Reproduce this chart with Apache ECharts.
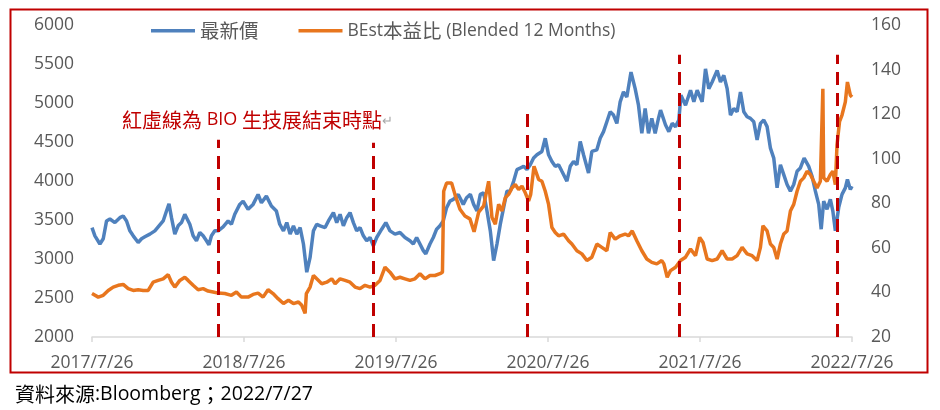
<!DOCTYPE html>
<html>
<head>
<meta charset="utf-8">
<script src="https://cdn.jsdelivr.net/npm/echarts@6/dist/echarts.min.js"></script>
<style>
html,body{margin:0;padding:0;background:#fff;}
#chart{width:940px;height:410px;}
</style>
</head>
<body>
<div id="chart"></div>
<script>
// x tick labels (one per year, starting 2017/7/26)
const tickLabels = ['2017/7/26','2018/7/26','2019/7/26','2020/7/26','2021/7/26','2022/7/26'];
const daysPerYear = 365.2;

// 最新價 : [days since 2017/7/26, value]
const priceData = [[0,3403],[7,3297],[19,3192],[27,3260],[35,3488],[43,3513],[55,3467],[67,3530],[75,3552],[83,3488],[91,3361],[99,3297],[111,3212],[119,3260],[127,3285],[139,3319],[151,3361],[159,3412],[171,3488],[179,3615],[185,3708],[191,3530],[199,3319],[207,3425],[215,3467],[223,3573],[227,3594],[235,3446],[243,3297],[251,3234],[259,3340],[267,3297],[275,3234],[281,3183],[287,3297],[295,3361],[303,3361],[315,3412],[327,3488],[335,3446],[343,3573],[355,3700],[363,3742],[375,3637],[387,3700],[399,3828],[407,3721],[419,3806],[431,3679],[443,3615],[451,3446],[460,3361],[468,3467],[476,3319],[484,3425],[492,3319],[500,3403],[508,3192],[516,2831],[524,3021],[532,3361],[540,3446],[548,3425],[560,3403],[568,3488],[580,3594],[588,3467],[596,3573],[604,3425],[612,3530],[620,3594],[628,3467],[636,3361],[644,3403],[652,3297],[660,3234],[668,3276],[676,3170],[684,3276],[696,3382],[706,3467],[716,3361],[728,3319],[740,3340],[752,3276],[764,3234],[772,3192],[780,3276],[788,3192],[796,3107],[802,3065],[812,3192],[820,3276],[828,3382],[836,3425],[844,3488],[852,3658],[860,3742],[868,3764],[880,3828],[892,3700],[900,3785],[909,3828],[917,3700],[925,3615],[933,3828],[941,3849],[949,3615],[957,3361],[965,2979],[973,3192],[981,3446],[989,3658],[997,3870],[1005,3870],[1013,3997],[1021,4146],[1029,4167],[1037,4188],[1045,4146],[1053,4209],[1061,4294],[1069,4336],[1081,4379],[1089,4548],[1097,4336],[1105,4251],[1113,4188],[1121,4209],[1129,4124],[1141,3997],[1149,4188],[1157,4251],[1165,4209],[1173,4506],[1181,4336],[1193,4103],[1201,4379],[1213,4400],[1221,4548],[1229,4633],[1237,4760],[1245,4887],[1253,4845],[1261,4739],[1269,5015],[1277,5142],[1285,5078],[1295,5396],[1305,5184],[1313,4972],[1321,4612],[1329,4930],[1337,4612],[1345,4803],[1353,4612],[1361,4803],[1366,4909],[1378,4718],[1386,4633],[1394,4739],[1402,4697],[1410,4782],[1415,5100],[1426,4972],[1438,5163],[1446,5015],[1454,5163],[1466,5015],[1474,5438],[1482,5184],[1490,5269],[1502,5418],[1510,5269],[1518,5354],[1526,5184],[1534,4845],[1542,4930],[1550,4887],[1558,5142],[1566,4887],[1574,4824],[1582,4803],[1590,4760],[1598,4527],[1606,4739],[1614,4782],[1622,4697],[1630,4421],[1638,4294],[1646,3912],[1654,4209],[1662,4082],[1670,3955],[1678,3870],[1686,3955],[1694,4124],[1702,4167],[1711,4294],[1722,4188],[1730,4061],[1738,3870],[1746,3700],[1752,3382],[1758,3742],[1766,3637],[1774,3764],[1780,3615],[1786,3361],[1794,3658],[1802,3828],[1810,3912],[1815,4019],[1822,3891],[1826,3933]];

// BEst本益比 (Blended 12 Months) : [days since 2017/7/26, value]
const peData = [[0,39.5],[15,37.9],[27,38.7],[39,40.9],[51,42.4],[63,43.2],[75,43.6],[87,41.7],[99,40.9],[111,41.2],[123,40.9],[135,40.9],[147,44.6],[159,45.4],[171,46.1],[183,48.0],[191,44.6],[199,42.4],[211,45.4],[223,46.8],[231,45.4],[243,43.2],[255,41.2],[267,41.7],[279,40.6],[291,40.2],[303,39.7],[319,39.5],[335,38.7],[347,40.2],[359,37.9],[375,37.9],[387,39.1],[399,39.7],[411,37.9],[423,41.2],[435,39.5],[447,37.2],[460,35.0],[472,36.5],[484,35.0],[496,35.7],[504,34.2],[512,30.6],[515,39.5],[524,42.4],[532,47.6],[540,46.1],[552,43.9],[564,44.6],[576,46.1],[584,43.9],[596,46.1],[608,45.4],[620,44.6],[632,42.4],[644,41.7],[656,43.2],[668,42.4],[680,43.2],[692,45.4],[704,51.3],[716,49.1],[728,46.1],[740,46.8],[752,46.1],[764,45.4],[776,46.1],[788,48.4],[800,46.1],[812,47.6],[824,47.6],[836,48.4],[842,49.1],[845,85.4],[852,89.1],[864,89.1],[872,84.0],[884,77.3],[896,74.3],[908,73.0],[918,67.2],[929,76.0],[941,78.8],[953,89.9],[961,73.6],[969,70.6],[977,79.5],[985,76.5],[993,82.5],[1001,84.0],[1009,86.9],[1017,88.4],[1025,86.2],[1033,87.7],[1041,84.7],[1049,81.0],[1054,84.0],[1062,96.6],[1073,90.7],[1081,89.9],[1089,85.4],[1097,79.5],[1105,69.1],[1113,66.9],[1121,65.4],[1133,66.2],[1145,63.2],[1153,61.7],[1165,58.7],[1177,57.3],[1189,54.3],[1201,55.8],[1213,61.7],[1225,60.2],[1237,58.7],[1245,66.9],[1257,63.9],[1269,65.4],[1281,66.2],[1289,65.4],[1298,67.6],[1309,63.2],[1321,58.7],[1333,55.0],[1345,53.5],[1357,52.8],[1369,54.3],[1374,52.8],[1382,46.8],[1390,49.8],[1402,51.3],[1414,54.3],[1426,55.8],[1438,59.5],[1450,56.5],[1460,64.7],[1468,62.4],[1478,55.0],[1490,54.3],[1502,55.0],[1514,58.7],[1526,55.0],[1538,55.0],[1550,56.5],[1562,60.2],[1574,57.3],[1586,56.5],[1598,54.3],[1606,60.2],[1612,69.9],[1622,67.6],[1630,61.7],[1638,60.2],[1646,55.0],[1654,61.7],[1662,66.2],[1670,67.6],[1678,76.5],[1686,79.5],[1694,85.4],[1702,89.9],[1710,91.4],[1718,94.4],[1726,92.9],[1734,89.9],[1742,86.9],[1750,89.9],[1754,90.5],[1756,131.4],[1758,91.4],[1766,89.9],[1774,92.9],[1780,94.4],[1786,88.4],[1790,106.2],[1796,116.6],[1802,119.6],[1810,125.5],[1815,134.4],[1822,128.5],[1826,127.7]];

// BIO convention end dates (days since 2017/7/26) and top of each marker line (left-axis units)
const bioEndDays = [303, 676, 1046, 1411, 1790];
const bioLineTops = [4530, 4490, 4950, 5620, 5620];

const seriesNames = ['最新價', 'BEst本益比 (Blended 12 Months)'];
const noteText = '紅虛線為 BIO 生技展結束時點';
const sourceText = '資料來源:Bloomberg；2022/7/27';

const LATIN = '"Open Sans", sans-serif';
const CJK = '"Noto Sans CJK TC", sans-serif';
// wrap CJK runs in a rich-text tag so they get their own (larger) size
const cjkWrap = s => s.replace(/([\u3000-\u9fff\uff00-\uffef]+)/g, '{c|$1}');

const toYears = arr => arr.map(p => [p[0] / daysPerYear, p[1]]);

const chart = echarts.init(document.getElementById('chart'), null, {renderer: 'canvas'});
chart.setOption({
  animation: false,
  backgroundColor: '#fff',
  textStyle: {fontFamily: LATIN},
  grid: {left: 92, right: 88, top: 25, bottom: 73, containLabel: false},
  legend: {
    left: 151, top: 21, padding: 0, itemWidth: 44, itemHeight: 3.5, itemGap: 40,
    icon: 'rect',
    data: seriesNames,
    formatter: name => cjkWrap(name),
    textStyle: {color: '#595959', fontSize: 17.5, fontFamily: LATIN,
      rich: {c: {color: '#595959', fontSize: 19.5, fontFamily: CJK}}}
  },
  xAxis: {
    type: 'value', min: 0, max: 5, interval: 1,
    axisLine: {show: true, lineStyle: {color: '#D9D9D9', width: 1.5}},
    axisTick: {show: true, length: 5, lineStyle: {color: '#D9D9D9', width: 1.5}},
    splitLine: {show: false},
    axisLabel: {color: '#595959', fontSize: 17.5, margin: 17, fontFamily: LATIN,
      formatter: v => tickLabels[Math.round(v)]}
  },
  yAxis: [
    {type: 'value', min: 2000, max: 6000, interval: 500,
     axisLine: {show: false}, axisTick: {show: false}, splitLine: {show: false},
     axisLabel: {color: '#595959', fontSize: 17.5, margin: 18, fontFamily: LATIN,
       formatter: v => String(v)}},
    {type: 'value', min: 20, max: 160, interval: 20, position: 'right',
     axisLine: {show: false}, axisTick: {show: false}, splitLine: {show: false},
     axisLabel: {color: '#595959', fontSize: 17.5, margin: 19, fontFamily: LATIN,
       formatter: v => String(v)}}
  ],
  series: [
    {name: seriesNames[0], type: 'line', yAxisIndex: 0, symbol: 'none',
     data: toYears(priceData), lineStyle: {color: '#4F81BD', width: 3.5}, itemStyle: {color: '#4F81BD'}},
    {name: seriesNames[1], type: 'line', yAxisIndex: 1, symbol: 'none',
     data: toYears(peData), lineStyle: {color: '#E8761E', width: 3.5}, itemStyle: {color: '#E8761E'}},
    {name: 'bio', type: 'line', yAxisIndex: 0, data: [], silent: true,
     markLine: {
       symbol: 'none', silent: true, label: {show: false},
       lineStyle: {color: '#C00000', width: 3, type: [13, 8]},
       data: bioEndDays.map((d, i) => [
         {coord: [d / daysPerYear, 2000]},
         {coord: [d / daysPerYear, bioLineTops[i]]}
       ])
     }}
  ],
  graphic: [
    {type: 'rect', left: 8, top: 7, shape: {x: 0, y: 0, width: 917, height: 363},
     style: {fill: 'none', stroke: '#C00000', lineWidth: 2}, silent: true},
    {type: 'text', left: 122, top: 110,
     style: {text: cjkWrap(noteText) + '{r|↵}', fill: '#C00000', fontSize: 18, fontFamily: LATIN,
       rich: {c: {fill: '#C00000', fontSize: 20, fontFamily: CJK},
              r: {fill: '#A6A6A6', fontSize: 13, fontFamily: CJK}}}},
    {type: 'text', left: 15, top: 384,
     style: {text: cjkWrap(sourceText), fill: '#000', fontSize: 19.5, fontFamily: LATIN,
       rich: {c: {fill: '#000', fontSize: 20, fontFamily: CJK}}}}
  ]
});
</script>
</body>
</html>
